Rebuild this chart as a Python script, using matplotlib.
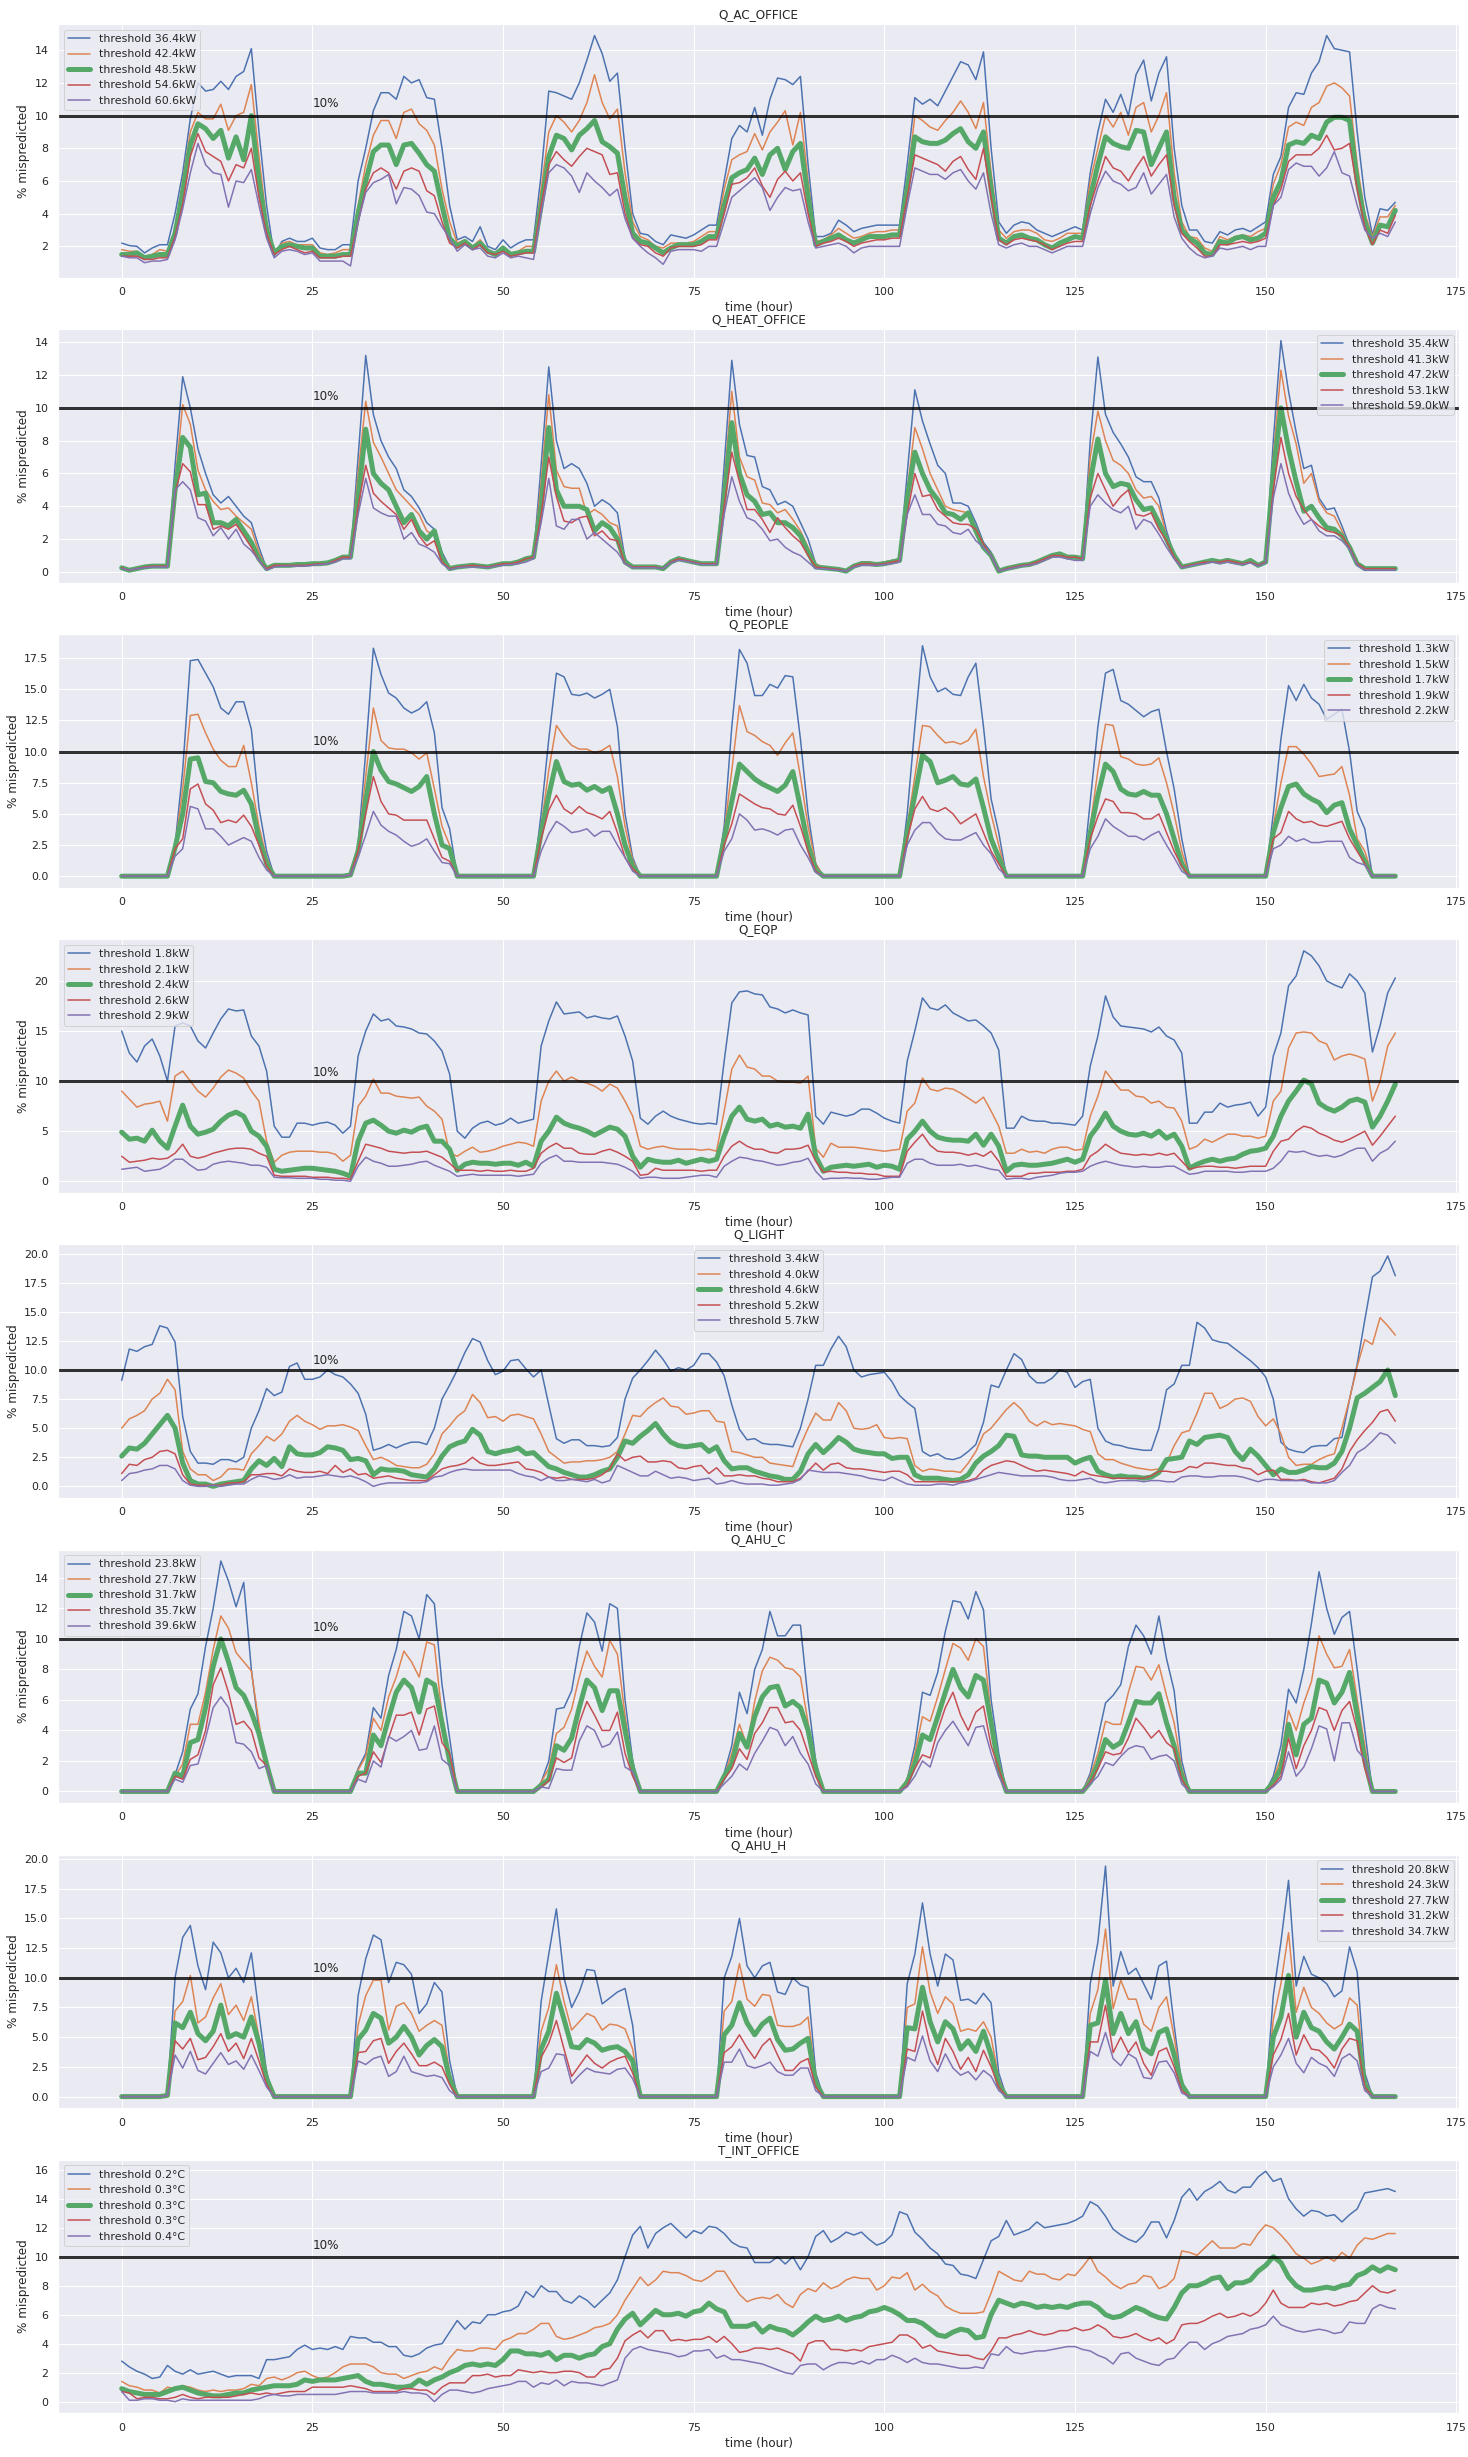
import matplotlib
matplotlib.use("Agg")
import matplotlib.pyplot as plt
import seaborn as sns
import numpy as np

sns.set_theme(style="darkgrid")
plt.rcParams["font.family"] = ["DejaVu Sans"]

hours = list(range(168))

# ---------------- Q_AC_OFFICE ----------------
ac_labels = ["36.4", "42.4", "48.5", "54.6", "60.6"]
ac_1 = [2.2,2.05,2.0,1.6,1.9,2.1,2.1,4.0,6.5,9.8,12.0,11.5,11.6,12.1,11.6,12.4,12.7,14.1,9.0,4.5,1.4,2.3,2.5,2.3,
        2.3,2.5,1.9,1.8,1.8,2.1,2.1,6.0,8.0,10.3,11.4,11.4,11.0,12.4,12.0,12.2,11.1,11.0,8.0,4.5,2.4,2.6,2.3,3.2,
        2.0,1.8,2.4,1.9,2.2,2.4,2.4,6.4,11.5,11.4,11.2,11.0,12.0,13.4,14.9,13.8,12.1,12.6,8.0,4.0,2.8,2.7,2.3,2.1,
        2.7,2.6,2.5,2.7,3.0,3.3,3.3,6.0,8.6,9.4,9.0,10.5,8.8,11.0,12.3,12.2,11.9,12.4,7.0,2.6,2.6,2.8,3.6,3.3,
        2.9,3.1,3.2,3.3,3.3,3.3,3.3,7.0,11.1,10.7,11.0,10.6,11.5,12.4,13.3,13.1,12.2,13.9,8.0,3.5,2.8,3.3,3.5,3.4,
        3.0,2.8,2.6,2.8,3.0,3.2,3.0,6.5,9.0,11.0,10.2,11.3,10.0,12.5,13.4,10.9,12.6,13.6,8.0,4.5,3.0,3.0,2.3,2.2,
        2.9,2.7,3.0,3.1,2.9,3.2,3.5,6.4,7.5,10.5,11.4,11.3,12.6,13.3,14.9,14.1,14.0,13.9,9.0,5.0,2.7,4.3,4.2,4.7]
ac_2 = [1.8,1.7,1.7,1.4,1.5,1.8,1.7,3.0,6.0,9.0,10.2,9.8,9.8,10.7,9.1,10.0,10.2,11.9,7.5,3.5,1.5,2.2,2.3,2.1,
        2.1,2.1,1.6,1.5,1.6,1.8,1.8,4.5,7.0,8.8,9.7,9.7,8.6,10.2,10.4,9.5,9.1,8.2,5.5,3.5,2.2,2.4,2.0,2.4,
        1.8,1.6,2.0,1.6,1.7,2.0,2.0,5.5,9.0,10.0,9.6,9.0,9.7,10.8,12.5,10.8,9.8,10.4,6.5,3.5,2.6,2.4,2.0,1.9,
        2.2,2.2,2.2,2.3,2.6,2.9,2.9,5.5,7.3,7.6,7.8,8.9,7.9,9.0,9.6,10.3,8.2,10.2,6.0,2.3,2.4,2.7,3.1,2.8,
        2.5,2.6,2.8,2.9,2.9,3.0,3.0,6.0,10.0,9.7,9.3,9.1,9.7,10.2,10.9,10.2,9.2,10.8,6.5,3.0,2.5,2.9,3.0,3.0,
        2.8,2.4,2.3,2.5,2.8,2.8,2.8,6.0,8.0,10.0,9.3,10.2,8.8,10.5,10.8,9.0,10.0,11.4,6.5,3.5,2.6,2.5,1.9,1.7,
        2.6,2.4,2.6,2.7,2.6,2.9,3.1,5.8,7.0,9.3,9.6,9.4,10.5,10.8,11.8,12.0,11.7,11.2,7.0,4.0,2.6,3.8,3.8,4.5]
ac_3 = [1.5,1.5,1.6,1.3,1.4,1.5,1.5,2.8,5.3,8.2,9.5,9.2,8.6,9.1,7.4,8.7,7.3,10.0,6.0,3.0,1.6,2.0,2.1,2.0,
        1.9,1.9,1.4,1.4,1.4,1.5,1.5,4.0,6.0,7.8,8.2,8.2,7.0,8.2,8.3,7.7,7.0,6.6,4.5,2.5,2.0,2.3,1.9,2.2,
        1.7,1.5,1.9,1.5,1.6,1.7,1.7,4.5,7.5,8.8,8.6,7.9,8.8,9.2,9.7,8.4,8.1,7.7,5.0,2.8,2.3,2.2,1.9,1.6,
        1.9,2.1,2.1,2.1,2.3,2.6,2.6,4.5,6.2,6.5,6.7,7.4,6.4,7.6,8.0,6.7,7.8,8.3,5.0,2.1,2.3,2.5,2.7,2.4,
        2.2,2.4,2.6,2.6,2.6,2.7,2.7,5.5,8.7,8.4,8.3,8.3,8.5,8.9,9.2,8.4,8.0,9.0,5.5,2.5,2.2,2.6,2.7,2.5,
        2.4,2.1,1.9,2.2,2.4,2.6,2.5,5.0,7.0,8.7,8.3,8.1,8.0,9.1,9.0,7.0,8.0,9.0,5.0,3.0,2.5,2.2,1.6,1.5,
        2.3,2.2,2.5,2.6,2.4,2.5,2.8,5.0,6.0,8.2,8.4,8.3,8.8,8.6,9.6,9.9,9.9,9.7,6.0,3.5,2.2,3.3,3.2,4.2]
ac_4 = [1.4,1.4,1.4,1.2,1.2,1.3,1.3,2.6,4.6,7.5,8.9,7.8,7.5,7.2,6.0,7.0,6.8,8.0,5.0,2.8,1.5,1.8,2.0,1.8,
        1.6,1.7,1.3,1.3,1.3,1.4,1.4,3.5,5.5,6.5,6.8,6.5,5.5,6.6,6.8,6.6,5.4,5.1,3.5,2.2,1.9,2.2,1.8,2.1,
        1.6,1.5,1.7,1.4,1.5,1.6,1.6,4.5,7.0,7.8,7.3,6.9,7.5,8.0,7.8,7.6,6.4,6.5,4.0,2.5,2.1,2.0,1.6,1.4,
        1.9,2.0,2.0,2.0,2.1,2.4,2.4,4.0,5.8,5.9,6.2,6.8,5.7,5.0,6.1,6.6,6.0,6.5,4.0,2.0,2.2,2.3,2.5,2.3,
        2.0,2.2,2.3,2.4,2.4,2.5,2.5,5.0,7.6,7.4,7.2,7.0,6.6,7.2,7.5,6.7,6.1,8.0,5.0,2.4,2.1,2.4,2.5,2.4,
        2.3,2.1,1.8,2.0,2.2,2.3,2.3,4.5,6.0,7.5,6.8,6.6,6.0,6.8,7.5,6.3,7.0,7.6,4.5,2.8,2.3,1.9,1.4,1.4,
        2.1,2.1,2.2,2.3,2.2,2.3,2.5,4.5,5.5,7.2,7.6,7.6,7.6,8.0,8.8,7.9,8.0,8.3,5.5,3.2,2.1,3.0,2.8,3.9]
ac_5 = [1.4,1.3,1.3,1.0,1.1,1.1,1.2,2.4,4.3,6.5,8.3,7.0,6.5,6.4,4.4,6.0,5.9,6.7,4.5,2.5,1.3,1.7,1.8,1.7,
        1.5,1.6,1.1,1.1,1.1,1.1,0.8,3.5,5.3,5.9,6.1,6.4,4.6,5.6,5.5,5.1,4.1,4.0,3.2,2.5,1.7,2.1,1.8,1.9,
        1.4,1.3,1.6,1.3,1.4,1.3,1.2,4.0,6.5,7.0,6.8,6.3,5.3,6.5,6.0,5.6,5.1,5.5,3.7,2.5,2.0,1.6,1.3,0.9,
        1.7,1.8,1.8,1.8,1.7,2.0,2.0,3.5,5.0,5.4,5.8,6.2,5.6,4.2,5.0,5.6,5.4,5.5,3.5,1.9,2.0,2.1,2.2,2.0,
        1.6,1.9,2.0,2.0,2.0,2.0,2.0,4.5,6.8,6.6,6.4,6.4,6.1,6.5,6.7,6.0,5.5,6.5,4.0,2.1,1.9,2.1,2.2,2.0,
        2.0,1.8,1.6,1.8,2.0,2.0,2.0,4.0,5.6,6.6,6.0,5.8,5.4,5.6,6.5,5.2,5.8,6.4,3.8,2.5,1.9,1.5,1.3,1.4,
        1.9,1.8,1.9,2.0,1.8,2.0,2.0,4.5,5.0,6.7,7.1,6.9,6.9,6.3,6.8,7.8,6.5,6.3,4.5,3.0,2.5,2.8,2.6,3.5]

# ---------------- Q_HEAT_OFFICE ----------------
heat_labels = ["35.4", "41.3", "47.2", "53.1", "59.0"]
heat_1 = [0.25,0.1,0.2,0.3,0.35,0.35,0.4,6.5,11.9,10.0,7.5,6.0,4.7,4.2,4.6,4.0,3.4,3.0,1.5,0.2,0.4,0.45,0.45,0.45,
          0.45,0.5,0.5,0.6,0.7,0.9,0.9,7.0,13.2,9.6,8.0,7.0,6.3,5.0,4.6,3.9,3.0,2.6,1.2,0.3,0.3,0.35,0.45,0.35,
          0.3,0.4,0.5,0.5,0.7,0.8,0.9,6.5,12.5,8.0,6.3,6.6,6.3,5.4,4.0,4.4,4.1,3.6,0.8,0.3,0.3,0.3,0.3,0.2,
          0.7,0.9,0.8,0.6,0.5,0.5,0.5,6.5,12.9,9.0,7.1,7.0,5.2,5.0,4.1,4.3,4.0,3.0,2.0,0.5,0.25,0.25,0.15,0.1,
          0.4,0.6,0.6,0.5,0.6,0.7,0.8,6.0,11.1,9.2,7.8,6.5,6.0,4.2,4.2,4.0,3.0,1.8,1.2,0.05,0.2,0.3,0.4,0.45,
          0.6,0.8,1.0,1.0,0.9,0.9,0.8,8.0,13.1,9.6,8.5,7.8,7.0,5.8,5.5,5.5,4.5,2.5,1.0,0.3,0.4,0.5,0.6,0.7,
          0.6,0.8,0.6,0.5,0.7,0.4,0.6,8.0,14.1,11.0,8.5,6.3,6.5,4.5,3.8,3.9,2.8,1.6,0.6,0.2,0.2,0.2,0.2,0.2]
heat_2 = [0.25,0.1,0.2,0.3,0.35,0.35,0.4,5.5,10.2,9.0,6.2,5.0,4.3,3.8,3.9,3.4,3.0,2.6,1.2,0.2,0.4,0.4,0.4,0.45,
          0.45,0.5,0.5,0.55,0.7,0.9,0.9,6.0,10.4,7.9,7.0,6.0,5.0,4.5,4.0,3.5,2.5,2.2,1.0,0.3,0.3,0.35,0.4,0.35,
          0.3,0.4,0.5,0.5,0.7,0.8,0.9,5.5,10.8,6.2,5.2,5.1,5.1,3.5,3.8,3.5,3.0,2.8,0.7,0.3,0.3,0.3,0.3,0.2,
          0.7,0.8,0.8,0.6,0.5,0.5,0.5,5.5,11.0,7.0,5.8,5.6,4.2,4.1,3.6,3.8,3.2,2.5,1.5,0.5,0.25,0.25,0.15,0.1,
          0.4,0.6,0.6,0.5,0.6,0.7,0.8,5.0,8.8,7.5,6.0,5.0,4.0,3.8,3.7,3.6,2.5,1.5,1.0,0.05,0.2,0.3,0.4,0.45,
          0.6,0.8,1.0,1.0,0.9,0.9,0.8,7.0,9.8,8.0,6.8,6.5,6.0,5.0,4.5,4.6,4.0,2.2,1.0,0.3,0.4,0.5,0.6,0.7,
          0.6,0.8,0.6,0.5,0.7,0.4,0.6,7.0,12.3,9.5,7.8,5.4,6.0,4.3,3.6,3.4,2.5,1.5,0.5,0.2,0.2,0.2,0.2,0.2]
heat_3 = [0.25,0.1,0.2,0.3,0.35,0.35,0.35,5.0,8.2,7.6,4.7,4.8,3.0,3.0,2.8,3.2,2.5,1.8,0.8,0.2,0.4,0.4,0.4,0.45,
          0.45,0.5,0.5,0.55,0.7,0.9,0.9,4.5,8.7,6.0,5.4,5.0,4.0,3.0,3.5,2.5,2.0,2.5,0.8,0.2,0.3,0.35,0.4,0.35,
          0.3,0.4,0.5,0.5,0.6,0.8,0.9,4.0,8.8,5.0,4.0,4.0,4.0,3.8,2.5,3.0,2.7,2.0,0.6,0.3,0.3,0.3,0.3,0.2,
          0.6,0.8,0.7,0.6,0.5,0.5,0.5,4.5,9.1,6.0,4.7,4.3,3.5,3.6,3.0,3.0,2.7,2.2,1.2,0.3,0.25,0.2,0.15,0.05,
          0.35,0.5,0.5,0.45,0.5,0.6,0.7,4.5,7.3,6.0,5.0,4.4,3.6,3.5,3.2,3.6,2.5,1.5,1.0,0.05,0.2,0.3,0.4,0.45,
          0.6,0.8,1.0,1.1,0.9,0.9,0.8,5.5,8.1,6.0,5.2,5.4,5.3,4.4,3.8,3.9,3.0,2.0,1.0,0.3,0.4,0.5,0.6,0.7,
          0.6,0.7,0.6,0.5,0.7,0.4,0.6,6.0,10.0,7.5,5.5,3.7,4.0,3.3,2.7,2.6,2.2,1.5,0.5,0.2,0.2,0.2,0.2,0.2]
heat_4 = [0.25,0.1,0.2,0.3,0.35,0.35,0.35,4.8,6.6,6.1,4.1,4.1,2.6,2.8,2.6,2.9,2.2,1.5,0.7,0.2,0.4,0.4,0.4,0.4,
          0.4,0.45,0.5,0.5,0.7,0.9,0.9,4.0,6.5,4.8,4.3,3.9,3.5,2.6,3.2,2.2,1.6,1.9,0.6,0.2,0.3,0.35,0.4,0.35,
          0.3,0.4,0.5,0.5,0.6,0.8,0.9,3.5,7.0,4.6,3.1,3.0,3.3,3.4,2.2,2.5,2.0,1.9,0.5,0.3,0.3,0.3,0.3,0.2,
          0.6,0.8,0.7,0.6,0.5,0.5,0.5,4.0,7.3,5.5,3.8,3.8,3.2,2.4,3.3,2.7,2.2,1.8,1.0,0.3,0.25,0.2,0.15,0.05,
          0.35,0.5,0.5,0.45,0.5,0.6,0.7,3.5,6.0,4.6,4.7,3.8,3.4,3.0,2.9,2.9,2.6,1.7,1.0,0.05,0.2,0.3,0.4,0.45,
          0.6,0.8,1.0,1.0,0.9,0.9,0.8,4.5,6.0,5.0,4.0,4.6,5.0,3.5,3.4,3.6,2.6,1.9,0.9,0.3,0.4,0.5,0.6,0.6,
          0.6,0.7,0.6,0.5,0.6,0.4,0.6,5.0,8.2,6.0,4.6,3.8,3.2,2.8,2.5,2.4,2.2,1.5,0.5,0.2,0.2,0.2,0.2,0.2]
heat_5 = [0.2,0.1,0.2,0.25,0.3,0.3,0.3,5.0,5.5,5.0,3.3,3.1,2.2,2.7,2.0,2.6,1.7,1.3,0.7,0.1,0.3,0.35,0.35,0.35,
          0.35,0.4,0.45,0.5,0.6,0.8,0.8,3.5,5.7,3.9,3.6,3.4,3.4,2.0,2.4,1.7,1.5,1.2,0.5,0.15,0.25,0.3,0.3,0.3,
          0.25,0.35,0.4,0.45,0.5,0.6,0.8,3.0,5.7,2.8,2.6,3.2,3.2,2.0,2.4,2.0,1.6,1.2,0.5,0.25,0.25,0.25,0.25,0.2,
          0.55,0.7,0.65,0.55,0.45,0.45,0.45,3.5,5.8,4.3,3.3,3.1,2.6,1.9,2.0,1.5,1.2,1.0,0.6,0.2,0.2,0.15,0.1,0.05,
          0.3,0.4,0.4,0.4,0.45,0.5,0.6,3.5,4.7,3.5,3.5,2.9,2.8,2.4,2.3,2.6,1.9,1.5,1.0,0.05,0.15,0.25,0.35,0.4,
          0.5,0.7,0.9,0.9,0.8,0.7,0.7,4.0,4.7,4.2,3.8,3.6,4.0,2.6,3.2,3.0,2.3,1.5,0.8,0.25,0.35,0.45,0.5,0.6,
          0.5,0.6,0.5,0.45,0.55,0.35,0.55,4.5,6.6,4.8,3.7,2.9,3.2,2.5,2.2,2.2,1.9,1.4,0.4,0.1,0.1,0.1,0.1,0.1]

# ---------------- Q_PEOPLE ----------------
people_labels = ["1.3", "1.5", "1.7", "1.9", "2.2"]
people_1 = [0,0,0,0,0,0,0,2.5,8.5,17.3,17.4,16.3,15.2,13.5,13.0,14.0,14.0,11.8,5.5,2.0,0,0,0,0,
            0,0,0,0,0,0,0.2,2.5,10.0,18.3,16.2,14.7,14.3,13.5,13.1,13.4,14.0,11.5,5.5,3.8,0,0,0,0,
            0,0,0,0,0,0,0,5.0,11.0,16.3,16.0,14.6,14.5,14.7,14.3,14.6,15.0,12.0,5.0,1.5,0,0,0,0,
            0,0,0,0,0,0,0,4.0,12.0,18.2,17.1,14.5,14.5,15.4,15.1,16.1,16.0,11.0,5.0,1.0,0,0,0,0,
            0,0,0,0,0,0,0,5.0,12.0,18.5,16.0,14.8,15.1,14.6,14.5,16.0,17.1,12.0,6.2,3.5,0,0,0,0,
            0,0,0,0,0,0,0,6.0,12.0,16.3,16.6,14.1,13.8,13.3,12.8,13.2,13.4,10.0,7.0,3.0,0,0,0,0,
            0,0,0,0,0,0,0,5.0,11.0,15.3,14.1,15.4,14.3,13.8,12.6,13.0,13.4,10.0,5.2,3.8,0,0,0,0]
people_2 = [0,0,0,0,0,0,0,2.3,7.0,12.9,13.0,11.5,10.2,9.3,8.8,8.8,10.5,7.5,4.0,1.5,0,0,0,0,
            0,0,0,0,0,0,0.2,2.3,8.0,13.5,10.9,10.3,10.2,10.2,9.9,9.4,9.9,7.0,4.0,2.5,0,0,0,0,
            0,0,0,0,0,0,0,4.0,8.5,12.1,11.2,10.5,10.2,10.2,9.9,10.1,10.5,8.0,4.0,1.3,0,0,0,0,
            0,0,0,0,0,0,0,3.5,8.5,13.7,11.6,11.3,10.8,10.5,9.7,10.7,11.5,8.0,4.0,1.0,0,0,0,0,
            0,0,0,0,0,0,0,4.0,8.0,12.1,12.0,11.3,10.7,10.8,10.6,10.9,11.8,8.0,5.0,2.5,0,0,0,0,
            0,0,0,0,0,0,0,4.0,8.5,12.2,12.1,9.6,9.4,9.0,8.9,9.0,9.5,7.5,5.0,2.0,0,0,0,0,
            0,0,0,0,0,0,0,4.0,7.5,10.4,10.4,9.8,9.0,8.0,8.1,8.2,8.8,6.5,3.0,2.0,0,0,0,0]
people_3 = [0,0,0,0,0,0,0,2.3,5.0,9.4,9.5,7.6,7.5,6.8,6.6,6.5,6.9,5.8,3.0,1.0,0,0,0,0,
            0,0,0,0,0,0,0.1,2.0,6.0,10.0,8.5,7.6,7.4,7.1,6.8,7.2,8.0,5.0,2.5,2.2,0,0,0,0,
            0,0,0,0,0,0,0,3.5,6.5,9.2,7.6,7.3,7.4,6.9,7.2,6.8,7.1,5.0,2.5,0.8,0,0,0,0,
            0,0,0,0,0,0,0,3.0,6.0,9.0,8.4,7.8,7.4,7.1,6.8,7.3,8.4,5.5,2.5,0.5,0,0,0,0,
            0,0,0,0,0,0,0,3.5,6.5,9.7,9.2,7.5,7.7,8.0,7.4,7.3,7.8,5.5,3.0,1.5,0,0,0,0,
            0,0,0,0,0,0,0,3.5,6.5,9.0,8.4,7.0,6.6,6.5,6.8,6.5,6.5,5.0,3.0,1.0,0,0,0,0,
            0,0,0,0,0,0,0,3.5,5.5,7.2,7.4,6.6,6.2,5.9,5.1,5.7,5.9,3.8,2.5,1.2,0,0,0,0]
people_4 = [0,0,0,0,0,0,0,2.2,3.0,7.0,7.4,5.8,5.3,4.3,4.5,4.3,4.9,4.0,2.5,0.8,0,0,0,0,
            0,0,0,0,0,0,0.1,2.0,5.0,8.0,6.0,5.0,4.9,4.5,4.5,4.5,4.5,3.0,1.5,1.2,0,0,0,0,
            0,0,0,0,0,0,0,3.0,5.3,6.5,5.4,5.0,5.6,5.1,4.9,4.6,5.2,3.5,1.5,0.6,0,0,0,0,
            0,0,0,0,0,0,0,2.5,4.2,6.6,6.2,5.8,5.5,5.4,5.0,4.9,5.7,4.0,2.0,0.4,0,0,0,0,
            0,0,0,0,0,0,0,3.0,5.4,6.4,5.4,5.2,5.5,5.0,4.2,4.6,5.0,3.5,2.0,1.0,0,0,0,0,
            0,0,0,0,0,0,0,3.0,4.8,6.2,6.0,5.1,5.1,5.0,4.6,4.6,5.0,3.5,2.0,0.8,0,0,0,0,
            0,0,0,0,0,0,0,3.0,3.5,5.2,4.6,4.3,4.4,4.1,4.0,4.2,4.4,3.0,2.0,1.0,0,0,0,0]
people_5 = [0,0,0,0,0,0,0,1.6,2.2,5.6,5.4,3.8,3.8,3.2,2.5,2.8,3.1,2.8,1.5,0.5,0,0,0,0,
            0,0,0,0,0,0,0.1,1.5,3.3,5.2,4.1,3.6,3.3,2.8,2.4,2.6,3.0,2.0,1.1,1.0,0,0,0,0,
            0,0,0,0,0,0,0,2.0,3.4,4.4,4.0,3.5,3.6,3.8,3.2,3.6,3.6,2.5,1.5,0.4,0,0,0,0,
            0,0,0,0,0,0,0,2.0,3.0,5.0,4.5,3.7,3.8,3.6,3.3,3.7,3.8,2.5,1.5,0.3,0,0,0,0,
            0,0,0,0,0,0,0,2.5,3.7,4.3,4.3,3.5,3.0,2.9,2.9,3.2,3.5,2.5,1.8,0.6,0,0,0,0,
            0,0,0,0,0,0,0,2.2,3.2,4.6,4.0,3.6,3.2,3.2,2.9,3.3,3.6,2.5,1.5,0.4,0,0,0,0,
            0,0,0,0,0,0,0,2.2,2.5,3.2,2.8,3.0,2.7,2.7,2.8,2.8,2.8,1.5,1.1,0.9,0,0,0,0]

# ---------------- Q_EQP ----------------
eqp_labels = ["1.8", "2.1", "2.4", "2.6", "2.9"]
eqp_1 = [15.0,12.8,11.9,13.5,14.2,12.5,10.0,15.5,15.8,15.5,14.0,13.3,14.8,16.2,17.2,17.0,17.1,14.5,13.5,11.0,5.5,4.4,4.4,5.8,
         5.8,5.6,5.8,5.9,5.6,4.8,5.5,12.5,15.0,16.7,16.0,16.2,15.5,15.4,15.2,14.8,14.7,14.0,13.0,10.7,5.0,4.3,5.3,5.8,
         6.0,5.6,5.8,6.3,5.8,6.0,6.2,13.5,16.0,17.9,16.7,16.8,16.9,16.3,16.5,16.3,16.2,16.5,14.5,12.0,6.3,5.7,6.5,7.0,
         6.5,6.2,6.0,5.8,5.7,5.8,5.7,12.0,17.8,18.9,19.0,18.7,18.6,17.4,17.2,16.8,17.1,16.8,16.6,6.5,5.7,6.9,6.7,6.5,
         6.7,7.2,7.2,6.8,6.3,6.0,5.8,12.0,15.0,18.3,17.3,17.1,17.6,16.8,16.4,16.0,16.1,15.5,14.8,13.1,5.3,5.3,6.5,6.1,
         6.0,6.0,5.8,5.8,5.7,5.6,6.5,11.5,14.5,18.5,16.4,15.5,15.4,15.3,15.2,14.9,15.4,14.5,14.1,12.8,5.8,5.8,6.9,6.9,
         7.8,7.4,7.6,7.7,7.9,6.5,7.4,12.5,14.8,19.5,20.5,23.0,22.5,21.5,20.0,19.6,19.3,20.7,20.0,18.8,12.9,15.5,18.8,20.3]
eqp_2 = [9.0,8.2,7.4,7.7,7.8,8.0,6.0,10.5,11.0,10.0,9.0,8.4,9.3,10.4,11.1,10.8,10.3,9.0,8.0,4.0,1.9,2.6,2.9,3.0,
         3.0,3.0,2.9,2.9,2.7,2.0,2.6,7.5,8.5,10.2,8.8,8.8,8.5,8.4,8.3,8.4,7.5,7.0,6.2,2.8,2.5,3.0,3.4,2.9,
         3.0,3.2,3.5,3.7,3.9,3.8,3.5,8.0,10.0,11.0,10.0,10.4,10.0,9.8,9.5,9.0,9.7,9.3,8.0,6.5,3.5,3.2,3.4,3.5,
         3.3,3.2,3.2,3.2,3.1,3.2,3.0,7.0,11.2,12.6,11.4,11.2,10.5,10.5,10.0,9.9,9.9,9.8,10.5,3.3,2.4,3.8,3.4,3.4,
         3.4,3.3,3.2,3.1,3.0,3.1,3.2,7.0,7.8,10.3,9.2,9.0,9.3,9.2,8.8,8.3,7.8,8.4,7.0,5.5,2.8,2.8,3.2,2.9,
         3.0,2.8,3.2,3.4,3.4,3.1,3.2,6.5,8.5,11.0,10.0,9.1,9.1,8.5,8.4,7.8,8.0,7.4,7.3,6.0,3.2,3.5,4.2,3.9,
         4.3,4.7,4.7,4.5,4.5,4.3,4.5,8.0,9.0,13.3,14.8,14.9,14.8,14.0,13.7,12.1,12.5,12.7,12.5,12.2,8.0,10.0,13.5,14.8]
eqp_3 = [4.9,4.2,4.3,4.0,5.1,4.0,3.3,5.5,7.6,5.5,4.7,4.9,5.2,6.0,6.6,6.9,6.5,5.0,4.5,3.5,1.2,1.0,1.1,1.2,
         1.3,1.3,1.2,1.1,1.0,0.8,0.5,4.0,5.8,6.1,5.6,5.0,4.8,5.1,4.9,5.3,5.5,4.0,4.0,3.2,1.1,1.7,1.9,1.8,
         1.8,1.7,1.8,1.8,1.6,1.9,1.5,4.0,5.0,6.4,5.8,5.5,5.3,5.0,4.6,5.0,5.4,5.2,4.5,2.5,1.4,2.2,2.0,1.9,
         1.9,2.1,1.8,2.0,2.2,2.0,2.2,4.5,6.5,7.4,6.2,6.0,6.2,5.5,5.7,5.4,5.5,5.3,6.7,2.5,1.0,1.4,1.5,1.6,
         1.5,1.6,1.7,1.4,1.6,1.5,1.2,4.2,5.0,6.0,5.0,4.4,4.2,4.1,4.1,4.0,4.7,3.6,4.7,3.5,1.0,1.6,1.7,1.6,
         1.6,1.7,1.8,2.0,2.2,1.9,2.2,4.5,5.5,6.8,5.5,5.0,4.7,4.6,4.8,4.5,5.0,4.3,4.7,3.5,1.3,1.7,2.0,2.2,
         2.0,2.2,2.3,2.7,3.0,3.1,3.3,4.5,6.5,8.0,9.0,10.1,9.7,7.8,7.3,7.0,7.4,8.0,8.2,7.9,5.4,6.5,8.0,9.7]
eqp_4 = [2.5,1.9,2.0,2.1,2.3,2.2,2.3,2.8,3.7,2.5,2.3,2.5,2.8,3.0,3.2,3.3,3.3,3.2,2.8,2.5,0.6,0.5,0.5,0.5,
         0.5,0.4,0.4,0.4,0.3,0.3,0.2,2.0,3.7,3.5,3.3,3.0,2.9,2.8,2.9,2.9,3.0,2.7,2.4,1.8,1.1,1.1,1.1,1.0,
         1.1,1.0,1.0,1.1,1.0,1.0,1.3,2.8,3.4,3.8,3.3,3.3,2.8,2.7,2.7,3.0,3.2,2.9,2.5,2.0,0.6,0.7,1.3,1.1,
         1.1,1.1,1.1,1.1,1.0,1.1,1.1,2.5,3.5,4.0,3.5,3.2,3.2,2.9,2.8,3.2,3.2,3.3,3.6,2.0,0.9,1.0,0.9,0.9,
         0.8,0.8,0.7,0.7,0.5,0.5,0.5,3.0,3.9,4.7,3.6,3.0,2.9,2.9,2.8,2.6,2.8,2.5,3.0,2.0,0.5,0.5,0.5,0.8,
         0.8,0.9,0.9,0.9,1.0,1.0,1.2,2.5,3.0,3.7,3.2,2.8,2.7,2.6,2.7,2.6,2.8,2.6,2.8,2.0,1.2,1.4,1.5,1.5,
         1.4,1.4,1.3,1.4,1.5,1.5,1.5,3.0,4.0,4.2,5.0,5.5,5.3,4.8,4.5,4.1,3.9,4.2,4.6,5.0,3.6,4.5,5.5,6.5]
eqp_5 = [1.2,1.3,1.4,1.0,1.1,1.2,1.6,2.2,2.2,1.6,1.1,1.2,1.7,1.9,2.0,1.9,1.8,1.6,1.6,1.4,0.4,0.35,0.35,0.3,
         0.3,0.3,0.2,0.2,0.1,0.1,0.0,1.5,2.4,2.0,1.8,1.5,1.5,1.6,1.7,1.9,2.0,1.6,1.3,1.0,0.5,0.6,0.7,0.6,
         0.6,0.6,0.6,0.6,0.5,0.6,0.7,1.8,2.3,2.6,2.0,2.0,1.9,1.9,1.9,1.9,1.8,1.7,1.4,1.0,0.3,0.4,0.4,0.3,
         0.3,0.3,0.4,0.5,0.6,0.6,0.4,1.5,2.0,2.4,2.3,2.1,2.0,1.8,1.6,1.7,1.9,2.0,2.3,1.0,0.2,0.3,0.3,0.35,
         0.3,0.3,0.2,0.2,0.3,0.4,0.4,1.8,2.2,2.2,1.8,1.6,1.6,1.6,1.7,1.5,1.6,1.4,1.2,1.1,0.2,0.3,0.3,0.2,
         0.4,0.5,0.6,0.8,0.9,0.9,1.0,1.5,1.8,2.0,1.8,1.6,1.5,1.4,1.5,1.4,1.4,1.5,1.5,1.1,0.7,0.8,1.0,1.0,
         1.0,1.0,0.9,0.9,1.0,1.0,1.0,1.3,2.0,3.0,2.9,3.0,2.7,2.5,2.6,2.4,2.6,3.0,3.3,3.3,2.0,2.8,3.2,4.0]

# ---------------- Q_LIGHT ----------------
light_labels = ["3.4", "4.0", "4.6", "5.2", "5.7"]
light_1 = [9.1,11.8,11.6,12.0,12.2,13.8,13.6,12.4,6.0,3.0,2.0,2.0,1.9,2.3,2.3,2.1,2.5,5.0,6.5,8.4,7.8,8.1,10.3,10.6,
           9.2,9.2,9.4,10.0,9.6,9.4,8.8,8.0,6.2,3.1,3.3,3.6,3.3,3.6,3.8,3.8,3.6,5.0,7.5,8.7,10.0,11.5,12.7,12.4,
           10.8,9.6,9.9,10.8,10.9,10.1,9.4,10.0,7.0,4.1,3.7,4.0,4.0,3.5,3.5,3.4,3.5,4.2,7.5,9.3,10.0,10.8,11.7,10.9,
           9.9,10.2,10.0,10.4,11.4,11.4,10.7,9.5,7.0,4.9,4.0,4.1,3.7,3.6,3.6,3.5,3.4,5.0,7.5,10.4,10.4,11.8,12.9,12.0,
           10.0,9.4,9.6,9.7,9.8,9.0,7.8,7.2,6.7,3.0,2.6,2.8,2.4,2.3,2.5,3.0,3.6,5.5,8.7,8.5,10.0,11.4,10.9,9.5,
           8.9,8.9,9.3,10.0,9.8,8.5,9.0,9.2,5.0,3.9,3.6,3.5,3.3,3.2,3.1,3.1,5.0,8.3,8.8,10.4,10.4,14.1,13.6,12.6,
           12.4,12.3,11.8,11.3,10.8,10.2,9.4,7.5,3.8,3.2,3.0,2.9,3.4,3.5,3.5,4.1,4.2,7.5,10.5,14.3,18.0,18.5,19.8,18.1]
light_2 = [5.0,5.8,6.1,6.5,7.5,8.0,9.2,8.3,3.0,1.5,1.0,1.0,0.5,0.8,1.5,1.5,1.4,2.8,3.5,4.3,3.9,4.5,5.6,6.1,
           5.6,5.3,4.9,5.2,5.2,5.3,5.1,4.8,3.5,2.3,2.5,2.2,1.8,1.7,1.6,1.6,1.9,2.8,4.5,5.2,6.0,6.5,7.9,7.2,
           5.9,6.0,5.6,6.1,6.2,6.0,5.8,4.5,3.0,2.5,2.0,2.1,2.1,2.2,2.2,2.3,2.5,3.0,4.5,6.1,6.0,6.7,7.2,7.6,
           6.9,6.8,6.2,6.3,6.5,6.5,5.6,5.5,3.0,2.9,2.7,2.5,2.5,2.0,1.9,1.8,1.7,3.5,5.0,6.3,5.7,5.7,7.2,6.5,
           5.0,4.9,5.0,5.3,4.2,4.1,4.2,4.1,1.8,1.3,1.5,1.4,1.3,1.3,1.2,2.0,3.0,4.5,5.0,5.8,6.6,7.2,6.6,5.6,
           5.2,5.6,5.3,5.4,5.3,5.2,4.9,4.7,2.8,2.3,2.3,2.0,1.8,1.6,1.5,1.4,1.5,2.0,3.5,4.6,4.8,6.3,8.0,8.0,
           6.7,7.0,7.5,7.6,7.3,6.0,5.2,5.8,4.5,2.5,1.8,1.9,1.9,2.3,2.6,2.8,5.0,7.5,10.3,12.6,12.2,14.5,13.8,13.0]
light_3 = [2.6,3.3,3.2,3.7,4.5,5.3,6.1,5.0,2.0,0.5,0.2,0.2,0.0,0.2,0.3,0.4,0.5,1.5,2.2,1.8,2.4,1.7,3.4,2.8,
           2.7,2.7,2.9,3.4,3.3,3.1,2.3,2.4,2.2,1.0,1.5,1.4,1.4,1.3,1.0,0.9,0.8,1.5,2.6,3.4,3.7,3.9,4.9,4.4,
           3.0,2.8,3.0,3.1,3.3,2.8,2.9,2.3,1.7,1.5,1.2,1.0,0.8,0.8,1.0,1.3,1.5,2.5,3.9,3.7,4.3,4.8,5.4,4.5,
           3.8,3.5,3.4,3.5,3.6,3.0,3.4,2.2,1.5,1.6,1.6,1.3,1.1,0.9,0.8,0.6,0.6,1.3,2.8,3.6,2.9,3.5,4.2,3.8,
           3.2,3.0,2.9,2.8,2.8,2.4,2.5,2.5,1.0,0.7,0.7,0.7,0.6,0.5,0.6,1.0,2.0,2.6,3.0,3.5,4.4,4.3,2.7,2.6,
           2.6,2.5,2.5,2.5,2.5,2.0,2.3,2.5,1.3,1.0,0.8,0.9,0.8,0.8,0.7,0.8,1.2,2.3,2.4,2.5,3.9,3.6,4.2,4.3,
           4.4,4.2,3.0,2.3,3.2,2.6,1.8,1.0,1.5,1.2,1.2,1.4,1.7,1.6,1.6,2.0,3.0,5.0,7.6,8.0,8.5,9.0,10.0,7.8]
light_4 = [1.1,1.9,1.8,2.3,2.5,3.0,3.1,2.8,1.0,0.2,0.1,0.1,0.1,0.1,0.3,0.3,0.4,1.0,1.0,1.1,1.1,0.9,1.5,1.3,
           1.2,1.2,1.3,1.1,1.8,1.2,1.5,1.0,1.1,0.7,0.8,0.9,0.7,0.6,0.5,0.5,0.5,1.0,1.5,1.7,1.8,2.0,2.5,2.0,
           1.8,1.8,1.9,2.0,2.1,1.5,1.4,1.2,0.8,0.7,0.8,0.6,0.6,0.6,0.7,1.0,1.5,2.8,2.2,2.5,2.6,2.1,2.1,2.2,
           2.1,1.6,1.5,1.7,1.8,1.1,1.6,0.9,0.9,1.0,0.9,0.9,0.7,0.6,0.4,0.4,0.4,0.7,1.3,2.0,1.4,1.9,2.0,1.6,
           1.5,1.5,1.4,1.3,1.2,1.3,1.3,1.0,0.4,0.4,0.4,0.4,0.4,0.4,0.4,0.5,0.7,1.4,1.8,2.0,2.2,2.1,1.8,1.5,
           1.3,1.4,1.3,1.2,1.1,0.9,1.3,1.0,0.9,0.8,0.7,0.7,0.7,0.7,0.7,0.9,1.3,1.3,1.2,1.3,1.7,1.6,2.0,2.0,
           1.9,1.8,1.8,1.6,1.5,1.0,1.3,1.4,0.6,0.6,0.5,0.6,0.4,0.3,0.5,0.7,1.5,3.0,4.0,4.8,5.5,6.4,6.6,5.6]
light_5 = [0.5,1.1,1.2,1.4,1.5,1.8,1.8,1.5,0.5,0.1,0.0,0.0,0.1,0.0,0.1,0.2,0.2,0.6,0.9,0.8,0.6,0.7,1.0,0.7,
           0.8,0.8,0.9,1.0,0.9,0.8,0.9,0.7,0.4,0.0,0.2,0.3,0.3,0.3,0.3,0.3,0.4,0.8,0.9,1.2,1.4,1.5,1.4,1.4,
           1.4,1.4,1.4,1.4,1.1,0.9,0.8,0.5,0.8,0.5,0.5,0.6,0.5,0.4,0.6,0.3,0.5,1.8,1.5,1.2,0.9,0.9,1.3,1.0,
           0.7,0.8,0.7,0.5,0.6,0.7,0.2,0.3,0.5,0.3,0.2,0.2,0.2,0.1,0.1,0.2,0.3,0.6,1.4,1.3,1.2,1.2,1.2,1.1,
           1.0,0.9,0.7,0.6,0.5,0.8,0.5,0.2,0.1,0.1,0.1,0.2,0.2,0.1,0.3,0.4,0.6,0.8,1.0,1.2,1.1,1.0,0.9,0.9,
           0.9,0.9,0.8,0.6,0.5,0.5,0.6,0.7,0.4,0.3,0.4,0.5,0.5,0.5,0.4,0.5,0.5,0.4,0.4,0.8,0.9,0.9,0.8,0.8,
           0.9,0.9,0.9,0.8,0.6,0.4,0.6,0.6,0.5,0.5,0.5,0.5,0.3,0.3,0.3,0.5,1.2,1.8,2.9,3.3,3.9,4.6,4.4,3.7]

# ---------------- Q_AHU_C ----------------
ahuc_labels = ["23.8", "27.7", "31.7", "35.7", "39.6"]
ahuc_1 = [0,0,0,0,0,0,0,1.1,2.6,5.4,6.4,9.5,12.0,15.1,13.8,12.1,13.7,8.0,4.0,1.8,0,0,0,0,
          0,0,0,0,0,0,0,1.5,2.5,5.5,4.8,7.6,9.3,11.8,11.5,10.0,12.9,12.3,7.0,3.5,0,0,0,0,
          0,0,0,0,0,0,0,0.6,2.0,5.4,5.5,6.6,9.5,11.7,11.1,9.2,12.3,12.0,6.0,2.0,0,0,0,0,
          0,0,0,0,0,0,0,1.2,3.0,6.5,5.1,8.0,9.3,11.8,10.2,10.2,10.9,10.9,6.0,2.0,0,0,0,0,
          0,0,0,0,0,0,0,0.8,3.0,6.5,6.3,7.8,10.5,12.5,12.4,11.3,13.1,11.9,6.0,2.5,0,0,0,0,
          0,0,0,0,0,0,0,1.2,3.5,5.8,6.3,7.0,9.5,10.9,10.2,9.0,11.5,8.7,6.6,2.0,0,0,0,0,
          0,0,0,0,0,0,0,1.0,3.0,6.7,5.8,8.0,11.0,14.4,12.0,10.3,11.4,11.8,8.0,4.0,0,0,0,0]
ahuc_2 = [0,0,0,0,0,0,0,1.0,1.8,4.4,4.4,6.5,9.3,11.5,10.7,9.1,8.5,7.9,4.5,1.5,0,0,0,0,
          0,0,0,0,0,0,0,1.4,2.3,4.8,4.0,6.2,7.5,9.2,8.5,7.5,9.8,9.6,5.0,2.0,0,0,0,0,
          0,0,0,0,0,0,0,0.6,1.5,3.8,4.2,5.4,7.5,9.2,8.2,7.5,9.9,9.0,5.0,1.5,0,0,0,0,
          0,0,0,0,0,0,0,1.0,2.5,4.4,3.0,5.9,7.9,8.8,8.6,8.1,8.0,7.5,4.5,1.5,0,0,0,0,
          0,0,0,0,0,0,0,0.8,2.5,4.9,4.6,6.2,8.0,9.7,9.4,8.6,10.0,9.5,5.0,2.0,0,0,0,0,
          0,0,0,0,0,0,0,1.0,2.5,4.6,4.4,4.4,6.5,8.2,8.1,7.3,8.3,6.3,4.5,1.5,0,0,0,0,
          0,0,0,0,0,0,0,0.8,2.2,5.3,4.0,5.8,7.2,10.2,9.0,8.1,8.2,9.3,6.0,3.0,0,0,0,0]
ahuc_3 = [0,0,0,0,0,0,0,1.2,1.0,3.2,3.4,5.5,8.2,10.0,8.5,6.8,6.3,5.2,3.8,1.8,0,0,0,0,
          0,0,0,0,0,0,0,1.2,1.2,3.7,3.0,4.8,6.5,7.3,6.8,5.2,7.3,7.0,4.5,2.0,0,0,0,0,
          0,0,0,0,0,0,0,0.4,0.8,3.0,2.7,3.5,5.5,7.3,6.8,5.3,6.6,6.6,4.0,1.5,0,0,0,0,
          0,0,0,0,0,0,0,1.0,1.8,3.8,2.9,4.9,6.2,6.8,6.9,5.6,5.9,5.5,4.0,1.5,0,0,0,0,
          0,0,0,0,0,0,0,0.6,1.8,3.7,3.4,4.9,6.5,8.0,6.8,6.2,7.6,7.3,4.5,1.5,0,0,0,0,
          0,0,0,0,0,0,0,0.6,1.8,3.4,2.9,3.2,4.5,5.9,5.8,5.8,6.4,4.5,3.0,1.0,0,0,0,0,
          0,0,0,0,0,0,0,0.6,1.5,4.4,2.4,4.4,4.8,7.3,7.1,5.8,6.5,7.8,5.0,2.0,0,0,0,0]
ahuc_4 = [0,0,0,0,0,0,0,1.0,0.8,2.1,2.4,4.0,7.0,8.1,6.5,4.4,4.6,4.0,2.2,1.7,0,0,0,0,
          0,0,0,0,0,0,0,1.0,1.2,2.6,1.9,3.5,5.0,5.0,5.2,3.7,5.4,5.6,3.2,2.5,0,0,0,0,
          0,0,0,0,0,0,0,0.3,0.7,2.2,1.9,2.2,4.5,5.9,5.0,4.0,4.0,5.2,2.5,1.0,0,0,0,0,
          0,0,0,0,0,0,0,0.8,1.5,2.8,2.1,3.8,4.5,5.5,5.5,4.5,4.6,4.0,2.5,1.0,0,0,0,0,
          0,0,0,0,0,0,0,0.4,1.5,2.4,2.2,4.0,5.5,6.5,5.0,4.0,5.2,5.6,3.0,1.5,0,0,0,0,
          0,0,0,0,0,0,0,0.6,1.5,2.6,2.4,2.5,3.5,4.8,4.2,3.5,4.0,3.2,2.8,0.8,0,0,0,0,
          0,0,0,0,0,0,0,0.4,1.0,3.5,1.5,3.0,4.0,5.5,5.3,4.0,5.3,5.9,4.0,1.5,0,0,0,0]
ahuc_5 = [0,0,0,0,0,0,0,0.8,0.6,1.7,1.8,3.5,5.5,6.2,5.5,3.2,3.1,2.6,1.5,1.7,0,0,0,0,
          0,0,0,0,0,0,0,0.8,0.6,2.0,1.6,3.6,3.3,3.6,4.0,2.7,2.8,4.3,2.1,1.7,0,0,0,0,
          0,0,0,0,0,0,0,0.3,0.2,1.5,1.4,1.4,3.3,4.3,4.0,2.9,3.1,3.9,1.6,1.3,0,0,0,0,
          0,0,0,0,0,0,0,0.5,1.0,1.8,1.4,2.5,3.3,4.2,4.0,3.0,3.6,2.5,1.8,0.5,0,0,0,0,
          0,0,0,0,0,0,0,0.3,1.0,2.0,1.6,3.2,4.0,4.6,3.8,3.0,4.2,4.3,2.5,1.0,0,0,0,0,
          0,0,0,0,0,0,0,0.5,1.0,1.9,1.7,2.3,2.8,3.0,2.9,2.1,2.3,2.4,2.0,0.5,0,0,0,0,
          0,0,0,0,0,0,0,0.3,0.8,2.6,1.0,1.6,2.8,4.3,4.1,2.0,4.5,4.5,2.7,2.1,0,0,0,0]

# ---------------- Q_AHU_H ----------------
ahuh_labels = ["20.8", "24.3", "27.7", "31.2", "34.7"]
ahuh_1 = [0,0,0,0,0,0,0.2,10.0,13.4,14.4,11.0,9.0,13.0,12.1,10.0,10.8,9.6,12.1,7.0,2.0,0,0,0,0,
          0,0,0,0,0,0,0,8.5,11.6,13.6,13.2,9.6,11.3,11.1,10.3,7.0,7.8,9.6,8.8,3.0,0,0,0,0,
          0,0,0,0,0,0,0,8.0,12.0,15.8,10.0,7.5,8.8,10.7,10.6,7.8,8.3,8.8,9.1,6.0,0,0,0,0,
          0,0,0,0,0,0,0,10.0,11.8,15.0,11.0,10.0,11.0,11.3,8.8,8.6,10.0,9.4,9.2,2.0,0,0,0,0,
          0,0,0,0,0,0,0,9.5,12.0,16.3,12.0,9.3,12.0,11.5,8.1,8.2,7.8,8.7,7.9,2.0,0,0,0,0,
          0,0,0,0,0,0,0,9.5,13.0,19.4,9.3,12.2,10.3,10.8,9.5,8.2,11.0,11.4,6.0,1.0,0,0,0,0,
          0,0,0,0,0,0,0,8.5,13.0,18.2,9.3,11.8,10.3,10.0,9.5,8.4,8.9,12.6,10.5,2.0,0,0,0,0]
ahuh_2 = [0,0,0,0,0,0,0.2,7.2,8.0,10.2,6.2,6.7,8.3,9.5,6.9,7.7,6.4,8.4,5.0,1.5,0,0,0,0,
          0,0,0,0,0,0,0,6.0,8.5,9.8,9.8,5.6,7.6,7.9,7.0,5.5,6.0,6.4,6.0,2.0,0,0,0,0,
          0,0,0,0,0,0,0,5.5,7.5,11.1,8.0,5.6,6.3,7.0,6.7,5.6,6.1,6.0,5.7,4.0,0,0,0,0,
          0,0,0,0,0,0,0,7.2,8.0,11.2,8.2,7.6,8.6,8.5,6.0,5.9,5.9,6.1,6.7,1.5,0,0,0,0,
          0,0,0,0,0,0,0,7.5,7.8,12.6,8.8,7.0,8.4,7.8,5.5,5.7,5.5,6.3,5.0,1.5,0,0,0,0,
          0,0,0,0,0,0,0,7.0,9.0,14.1,7.4,9.8,8.2,8.2,6.1,5.5,7.5,8.4,5.0,1.0,0,0,0,0,
          0,0,0,0,0,0,0,6.5,9.5,13.8,7.1,9.2,7.5,7.0,6.2,5.7,6.1,8.3,7.7,1.5,0,0,0,0]
ahuh_3 = [0,0,0,0,0,0,0.1,6.2,5.8,7.1,5.3,4.7,5.5,7.7,5.0,5.3,5.0,6.7,4.5,1.5,0,0,0,0,
          0,0,0,0,0,0,0,4.8,5.6,7.0,6.6,4.5,5.0,5.9,5.0,3.5,4.3,4.8,4.2,1.5,0,0,0,0,
          0,0,0,0,0,0,0,4.0,5.5,8.7,6.5,4.2,4.1,4.8,4.5,3.9,4.1,4.2,3.8,3.0,0,0,0,0,
          0,0,0,0,0,0,0,5.2,6.0,7.9,6.2,5.2,6.1,6.6,4.8,3.9,4.0,4.5,4.9,1.2,0,0,0,0,
          0,0,0,0,0,0,0,5.8,5.7,9.2,6.3,4.6,6.3,5.7,4.0,4.7,3.8,5.5,3.5,1.0,0,0,0,0,
          0,0,0,0,0,0,0,6.0,6.2,9.8,5.3,7.0,5.3,6.3,4.1,3.6,5.4,5.7,3.5,1.0,0,0,0,0,
          0,0,0,0,0,0,0,5.0,6.7,10.2,5.0,7.1,5.8,5.5,4.6,4.0,5.0,6.1,5.5,1.0,0,0,0,0]
ahuh_4 = [0,0,0,0,0,0,0.1,4.7,4.0,4.9,3.1,3.3,4.2,5.3,3.8,4.5,3.2,4.9,3.0,1.0,0,0,0,0,
          0,0,0,0,0,0,0,3.7,3.8,4.7,4.9,2.8,3.8,4.5,3.6,2.6,2.6,2.9,2.5,1.0,0,0,0,0,
          0,0,0,0,0,0,0,3.3,4.5,6.4,4.0,1.7,2.6,3.5,2.8,2.4,2.9,3.2,3.4,2.0,0,0,0,0,
          0,0,0,0,0,0,0,3.7,4.2,5.2,4.1,3.2,4.3,4.9,3.5,2.2,2.2,2.9,3.2,0.8,0,0,0,0,
          0,0,0,0,0,0,0,4.0,3.8,7.2,4.4,2.7,4.9,3.8,2.3,3.3,2.1,3.9,2.5,0.8,0,0,0,0,
          0,0,0,0,0,0,0,4.6,4.6,7.7,3.7,5.0,3.7,4.6,2.8,1.8,3.8,4.1,2.5,0.5,0,0,0,0,
          0,0,0,0,0,0,0,3.5,4.8,7.0,3.5,5.2,4.0,3.9,3.3,2.4,4.0,4.9,4.7,0.8,0,0,0,0]
ahuh_5 = [0,0,0,0,0,0,0.1,3.5,2.4,3.8,2.2,1.9,2.8,3.7,2.7,3.0,2.3,3.5,2.2,0.8,0,0,0,0,
          0,0,0,0,0,0,0,3.0,2.7,3.2,3.4,1.7,2.1,3.4,2.1,1.9,1.7,1.8,1.6,0.5,0,0,0,0,
          0,0,0,0,0,0,0,2.1,2.4,3.6,3.5,1.1,1.8,2.4,2.1,2.0,1.9,2.3,2.4,1.5,0,0,0,0,
          0,0,0,0,0,0,0,2.9,2.9,4.0,2.6,2.4,2.6,2.9,2.1,1.8,1.8,2.4,2.4,0.5,0,0,0,0,
          0,0,0,0,0,0,0,3.3,3.0,5.1,3.0,2.1,3.6,2.4,1.8,2.1,1.4,2.2,1.7,0.5,0,0,0,0,
          0,0,0,0,0,0,0,3.8,3.4,5.4,3.2,2.6,3.6,3.2,1.6,1.5,2.9,3.0,2.0,0.3,0,0,0,0,
          0,0,0,0,0,0,0,2.5,3.5,4.9,2.8,2.0,3.3,2.8,2.5,1.7,3.2,3.6,3.0,0.5,0,0,0,0]

# ---------------- T_INT_OFFICE ----------------
tint_labels = ["0.2", "0.3", "0.3", "0.3", "0.4"]
tint_1 = [2.8,2.4,2.1,1.9,1.6,1.7,2.5,2.1,1.9,2.2,1.9,2.0,2.1,1.9,1.7,1.8,1.8,1.8,1.6,2.9,2.9,3.0,3.1,3.6,
          3.9,3.6,3.7,3.6,3.8,3.6,4.5,4.4,4.4,4.1,4.1,3.8,3.8,3.2,3.1,3.3,3.7,3.9,4.0,4.8,5.6,5.0,5.5,5.4,
          6.0,6.0,6.2,6.3,6.6,7.6,7.2,8.0,7.6,7.6,7.0,6.8,7.3,7.0,6.5,7.0,7.5,8.4,10.0,11.5,12.1,10.6,11.6,12.0,
          12.3,11.8,11.3,11.8,11.6,12.1,12.0,11.6,11.0,10.7,10.6,9.6,9.6,9.6,10.0,9.5,10.0,9.1,10.0,11.4,11.8,11.0,11.3,11.7,
          11.5,11.7,11.2,10.8,11.0,11.5,13.1,12.9,11.7,11.2,10.6,10.2,9.5,9.4,8.8,8.7,8.5,9.8,11.1,11.4,12.5,11.5,11.7,11.9,
          12.4,12.0,12.1,12.2,12.3,12.5,12.8,13.8,13.5,12.8,11.9,11.5,11.2,11.0,11.5,12.4,12.4,11.3,12.5,14.1,14.7,13.9,14.5,14.8,
          15.2,14.6,14.4,14.8,14.8,15.5,15.9,15.2,15.4,14.0,13.3,12.8,13.2,13.1,12.8,12.9,12.4,12.9,13.3,14.4,14.5,14.6,14.7,14.5]
tint_2 = [1.4,1.1,1.0,0.8,0.8,0.6,1.0,0.9,1.1,1.0,0.8,0.7,0.8,0.7,0.8,0.8,0.9,1.2,1.1,1.6,1.7,1.5,1.7,2.0,
          2.1,1.8,1.6,1.7,2.0,2.4,2.6,2.6,2.6,2.4,2.0,1.9,1.9,1.6,1.8,2.0,2.1,2.4,2.2,3.0,3.6,3.5,3.5,3.7,
          3.7,3.6,4.2,4.4,4.7,4.7,5.0,5.4,5.4,4.5,4.3,4.4,4.6,4.8,5.1,5.2,5.4,6.0,7.0,7.8,8.6,8.0,8.4,9.0,
          8.9,8.9,8.7,8.4,8.3,8.6,9.0,9.0,8.2,7.4,6.9,7.1,7.2,7.1,7.4,6.8,6.5,7.4,7.8,7.6,8.2,7.8,8.0,8.4,
          8.6,8.5,8.5,7.7,8.0,8.6,8.5,8.9,7.7,8.1,7.6,7.3,6.6,6.3,6.1,6.1,6.1,6.2,7.5,9.0,8.7,8.4,8.3,9.0,
          8.8,8.8,8.5,8.4,8.8,8.7,9.3,10.0,9.0,8.6,8.1,7.8,8.1,8.2,8.7,8.6,7.8,8.0,8.5,10.4,10.3,10.1,10.6,11.1,
          10.6,10.6,10.6,10.9,10.8,11.6,12.2,12.0,11.5,10.9,10.2,9.9,9.5,9.7,10.0,9.7,10.3,9.9,10.8,11.3,11.2,11.4,11.6,11.6]
tint_3 = [0.9,0.7,0.6,0.5,0.5,0.5,0.7,0.9,1.0,0.8,0.6,0.5,0.4,0.4,0.5,0.6,0.6,0.8,0.9,1.0,1.1,1.1,1.1,1.2,
          1.5,1.4,1.5,1.5,1.5,1.6,1.7,1.8,1.4,1.2,1.2,1.1,1.0,1.0,1.1,1.5,1.2,1.5,1.7,2.0,2.2,2.5,2.6,2.5,
          2.6,2.5,2.9,3.5,3.5,3.3,3.3,3.2,3.4,2.9,3.2,3.2,3.0,3.2,3.3,3.8,4.0,5.0,5.7,6.1,5.3,5.8,6.3,6.0,
          6.0,6.1,5.9,6.2,6.3,6.8,6.4,6.2,5.2,5.2,5.2,5.4,4.8,5.2,5.0,4.9,4.6,5.0,5.5,5.9,5.6,5.7,5.9,5.6,
          5.8,5.9,6.2,6.3,6.5,6.3,6.0,5.6,5.6,5.4,5.0,4.6,4.5,4.8,5.0,4.9,4.4,4.5,6.0,7.0,6.8,6.6,6.8,6.7,
          6.5,6.6,6.5,6.6,6.5,6.7,6.8,6.8,6.5,6.0,5.8,5.9,6.2,6.5,6.3,6.0,5.8,5.7,6.5,7.5,8.0,8.0,8.2,8.5,
          8.6,7.8,8.2,8.2,8.4,9.0,9.4,10.0,9.6,8.6,8.0,7.7,7.7,7.8,7.9,7.8,8.0,8.1,8.7,8.9,9.3,9.0,9.3,9.1]
tint_4 = [0.7,0.6,0.2,0.3,0.3,0.2,0.2,0.3,0.5,0.3,0.2,0.3,0.3,0.3,0.3,0.4,0.5,0.6,0.5,0.6,0.5,0.6,0.7,0.7,
          0.7,1.0,1.0,1.0,1.0,1.0,1.1,1.0,0.9,0.7,0.7,0.7,0.7,0.9,0.9,0.8,0.8,0.5,1.0,1.3,1.3,1.3,1.8,1.8,
          1.9,1.7,1.8,1.8,2.2,2.1,2.0,2.1,2.0,2.0,2.1,2.1,2.0,1.7,1.7,2.2,2.3,3.0,4.2,4.6,4.9,4.4,4.9,4.9,
          4.2,4.3,4.2,4.3,4.3,4.5,4.1,4.5,4.0,3.4,3.5,3.7,3.7,3.6,3.7,3.5,3.3,2.8,4.0,4.2,4.2,3.6,3.6,3.5,
          3.6,3.5,3.8,3.9,4.0,4.1,4.6,4.6,4.3,3.7,3.9,3.5,3.4,3.3,3.2,3.2,3.0,2.9,3.5,4.4,4.4,4.6,4.7,4.9,
          4.7,4.6,4.7,4.9,4.9,5.1,4.9,5.0,5.3,5.0,4.5,4.4,4.5,4.7,4.4,4.2,4.4,4.0,4.3,5.3,5.4,5.4,5.6,5.9,
          6.1,5.8,5.9,6.1,5.9,6.2,6.8,7.7,6.8,6.5,6.5,6.5,6.8,6.7,6.8,6.6,6.7,6.9,7.0,7.5,8.0,7.6,7.5,7.7]
tint_5 = [0.7,0.1,0.1,0.2,0.2,0.1,0.1,0.0,0.2,0.1,0.1,0.1,0.1,0.1,0.1,0.1,0.1,0.1,0.2,0.4,0.5,0.4,0.4,0.5,
          0.5,0.5,0.5,0.5,0.5,0.6,0.7,0.7,0.7,0.6,0.6,0.6,0.6,0.7,0.6,0.6,0.5,0.0,0.5,0.8,0.8,0.7,0.6,0.7,
          0.9,1.0,1.1,1.2,1.4,1.4,1.0,1.3,1.2,1.5,1.1,1.4,1.3,1.3,1.2,1.1,1.3,1.5,3.0,3.6,3.8,3.6,3.5,3.4,
          3.3,3.1,3.2,3.5,3.5,3.6,3.0,3.2,2.9,2.9,2.8,2.7,2.6,2.4,2.2,2.0,1.9,2.5,2.6,2.6,2.2,2.5,2.7,2.7,
          2.6,2.8,2.6,2.9,2.9,3.2,3.0,2.7,3.0,2.7,2.6,2.6,2.5,2.4,2.3,2.3,2.4,2.3,3.3,3.2,3.8,3.4,3.3,3.4,
          3.5,3.5,3.6,3.7,3.8,3.8,3.6,3.5,3.2,3.0,2.6,3.3,3.4,3.0,2.8,2.6,2.5,2.9,3.0,3.6,4.1,4.1,3.6,4.0,
          4.2,4.5,4.6,4.7,5.0,5.1,5.3,5.9,5.3,5.1,4.9,4.8,4.9,5.0,4.9,4.7,4.8,5.5,5.4,5.4,6.4,6.7,6.5,6.4]

panels = [
    ("Q_AC_OFFICE", [ac_1, ac_2, ac_3, ac_4, ac_5], ac_labels, "kW", "upper left"),
    ("Q_HEAT_OFFICE", [heat_1, heat_2, heat_3, heat_4, heat_5], heat_labels, "kW", "upper right"),
    ("Q_PEOPLE", [people_1, people_2, people_3, people_4, people_5], people_labels, "kW", "upper right"),
    ("Q_EQP", [eqp_1, eqp_2, eqp_3, eqp_4, eqp_5], eqp_labels, "kW", "upper left"),
    ("Q_LIGHT", [light_1, light_2, light_3, light_4, light_5], light_labels, "kW", "upper center"),
    ("Q_AHU_C", [ahuc_1, ahuc_2, ahuc_3, ahuc_4, ahuc_5], ahuc_labels, "kW", "upper left"),
    ("Q_AHU_H", [ahuh_1, ahuh_2, ahuh_3, ahuh_4, ahuh_5], ahuh_labels, "kW", "upper right"),
    ("T_INT_OFFICE", [tint_1, tint_2, tint_3, tint_4, tint_5], tint_labels, "\u00b0C", "upper left"),
]

for name, series, _, _, _ in panels:
    for k, s in enumerate(series):
        assert len(s) == 168, f"{name} series {k} has {len(s)} values"

W, H = 1468, 2457
fig = plt.figure(figsize=(W / 72, H / 72), dpi=72)
colors = sns.color_palette("deep")
for i, (title, series, labels, unit, loc) in enumerate(panels):
    top = 24 + 305.1 * i
    h = 253.5
    ax = fig.add_axes([58 / W, 1 - (top + h) / H, (1459 - 58) / W, h / H])
    for j, (s, lab) in enumerate(zip(series, labels)):
        ax.plot(hours, s, color=colors[j], lw=5 if j == 2 else 1.5,
                label=f"threshold {lab}{unit}")
    ax.axhline(10, color="black", lw=3, alpha=0.8)
    ax.text(25, 10.5, "10%")
    ax.set_title(title)
    ax.set_xlabel("time (hour)")
    ax.set_ylabel("% mispredicted")
    ax.legend(loc=loc)

fig.savefig("out.png", dpi=72)
